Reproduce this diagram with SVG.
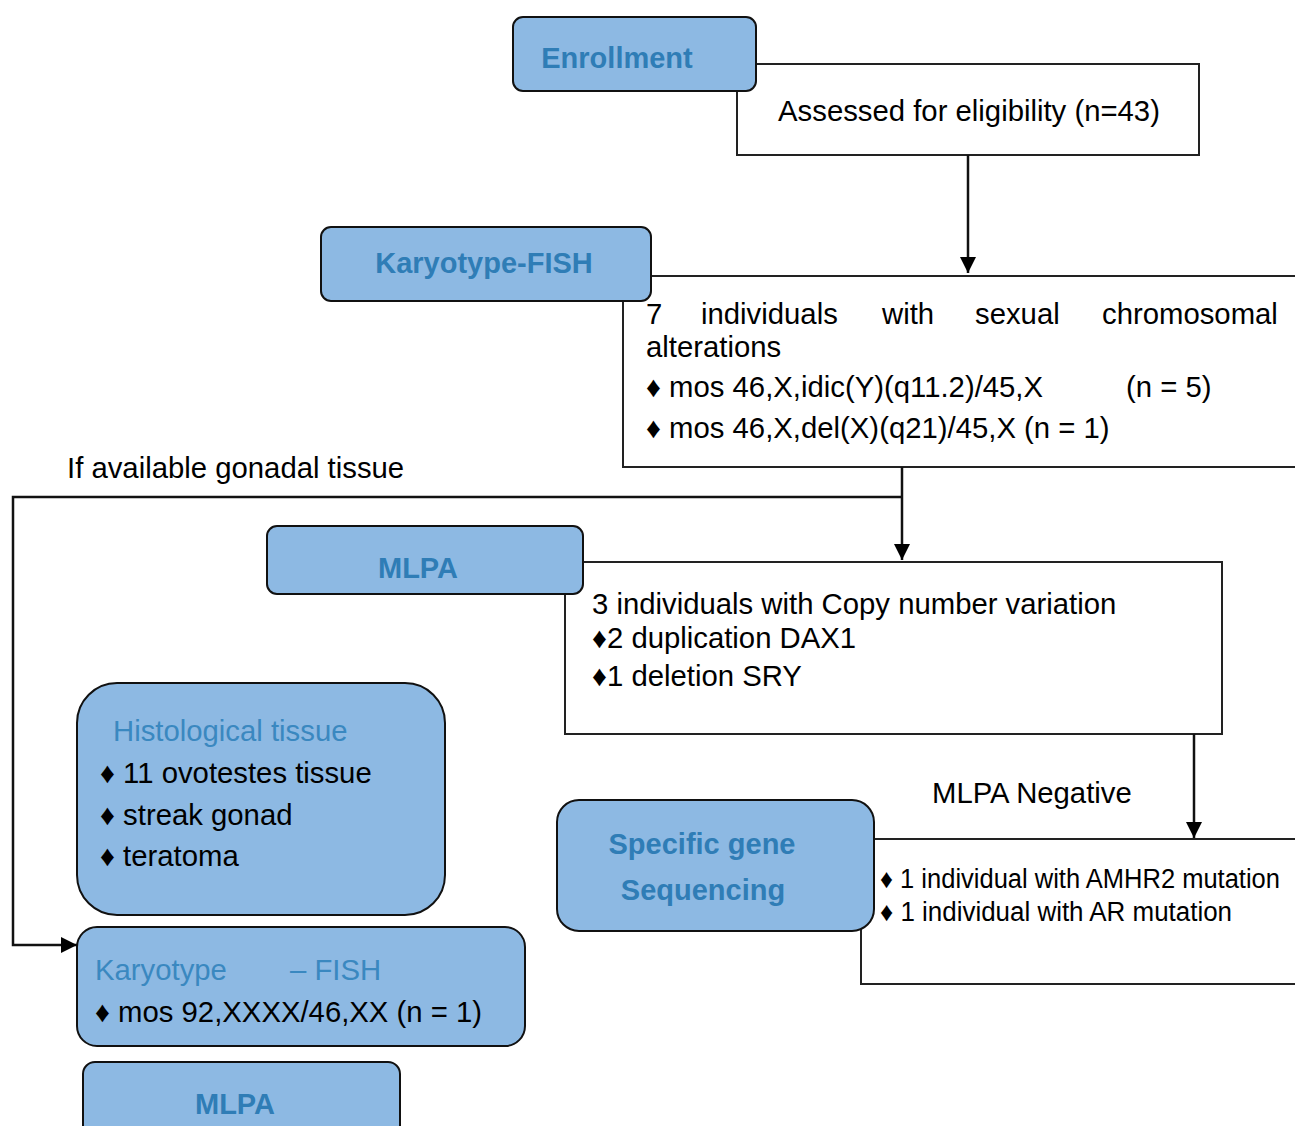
<svg xmlns="http://www.w3.org/2000/svg" width="1295" height="1126" viewBox="0 0 1295 1126">
<defs>
<marker id="arr" markerWidth="16" markerHeight="16" refX="16" refY="8" orient="auto" markerUnits="userSpaceOnUse" viewBox="0 0 16 16">
<path d="M0,0 L16,8 L0,16 z" fill="#000"/>
</marker>
<style>
.blue{fill:#8DB9E3;stroke:#111;stroke-width:2}
.white{fill:#fff;stroke:#222;stroke-width:2}
.hd{font-family:"Liberation Sans",Arial,sans-serif;font-weight:bold;font-size:29px;fill:#2F7DB6}
.hl{font-family:"Liberation Sans",Arial,sans-serif;font-size:29.3px;fill:#3A88C0}
.t{font-family:"Liberation Sans",Arial,sans-serif;font-size:29.3px;fill:#000}
.n{font-family:"Liberation Sans",Arial,sans-serif;font-size:27px;fill:#000}
.con{fill:none;stroke:#111;stroke-width:2.5}
</style>
</defs>
<rect width="1295" height="1126" fill="#fff"/>

<g id="assessed">
<rect class="white" x="737" y="64" width="462" height="91"/>
<text class="t" x="969" y="121" text-anchor="middle">Assessed for eligibility (n=43)</text>
</g>
<g id="enrollment">
<rect class="blue" x="513" y="17" width="243" height="74" rx="10"/>
<text class="hd" x="617" y="68" text-anchor="middle">Enrollment</text>
</g>

<g id="karyo-result">
<rect class="white" x="623" y="276" width="690" height="191"/>
<text class="t" x="646" y="324">7</text>
<text class="t" x="701" y="324">individuals</text>
<text class="t" x="882" y="324">with</text>
<text class="t" x="975" y="324">sexual</text>
<text class="t" x="1102" y="324">chromosomal</text>
<text class="t" x="646" y="357">alterations</text>
<text class="t" x="646" y="397">♦ mos 46,X,idic(Y)(q11.2)/45,X</text>
<text class="t" x="1126" y="397">(n = 5)</text>
<text class="t" x="646" y="438">♦ mos 46,X,del(X)(q21)/45,X (n = 1)</text>
</g>
<g id="karyotype-fish">
<rect class="blue" x="321" y="227" width="330" height="74" rx="10"/>
<text class="hd" x="484" y="273" text-anchor="middle">Karyotype-FISH</text>
</g>

<g id="mlpa-result">
<rect class="white" x="565" y="562" width="657" height="172"/>
<text class="t" x="592" y="614">3 individuals with Copy number variation</text>
<text class="t" x="592" y="648">♦2 duplication DAX1</text>
<text class="t" x="592" y="686">♦1 deletion SRY</text>
</g>
<g id="mlpa">
<rect class="blue" x="267" y="526" width="316" height="68" rx="10"/>
<text class="hd" x="418" y="578" text-anchor="middle">MLPA</text>
</g>

<g id="seq-result">
<rect class="white" x="861" y="839" width="450" height="145"/>
<text class="n" x="880" y="888" textLength="400" lengthAdjust="spacingAndGlyphs">♦ 1 individual with AMHR2 mutation</text>
<text class="n" x="880" y="921" textLength="352" lengthAdjust="spacingAndGlyphs">♦ 1 individual with AR mutation</text>
</g>
<g id="specific-gene">
<rect class="blue" x="557" y="800" width="317" height="131" rx="22"/>
<text class="hd" x="702" y="854" text-anchor="middle">Specific gene</text>
<text class="hd" x="703" y="900" text-anchor="middle">Sequencing</text>
</g>

<g id="histological">
<rect class="blue" x="77" y="683" width="368" height="232" rx="40"/>
<text class="hl" x="113" y="741">Histological tissue</text>
<text class="t" x="100" y="783">♦ 11 ovotestes tissue</text>
<text class="t" x="100" y="825">♦ streak gonad</text>
<text class="t" x="100" y="866">♦ teratoma</text>
</g>

<g id="karyotype-fish-2">
<rect class="blue" x="77" y="927" width="448" height="119" rx="20"/>
<text class="hl" x="95" y="980">Karyotype</text>
<text class="hl" x="290" y="980">– FISH</text>
<text class="t" x="95" y="1022">♦ mos 92,XXXX/46,XX (n = 1)</text>
</g>

<g id="mlpa-2">
<rect class="blue" x="83" y="1062" width="317" height="80" rx="12"/>
<text class="hd" x="235" y="1114" text-anchor="middle">MLPA</text>
</g>

<g id="labels">
<text class="t" x="67" y="478">If available gonadal tissue</text>
<text class="t" x="932" y="803">MLPA Negative</text>
</g>

<g id="connectors">
<line class="con" x1="968" y1="155" x2="968" y2="273" marker-end="url(#arr)"/>
<line class="con" x1="902" y1="467" x2="902" y2="560" marker-end="url(#arr)"/>
<polyline class="con" points="902,497 13,497 13,945 77,945" marker-end="url(#arr)"/>
<line class="con" x1="1194" y1="734" x2="1194" y2="838" marker-end="url(#arr)"/>
</g>
</svg>
